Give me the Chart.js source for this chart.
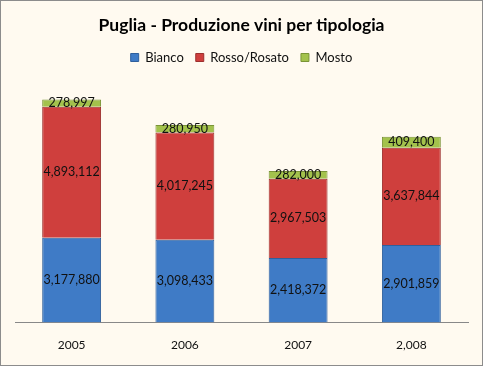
<!DOCTYPE html>
<html lang="it">
<head>
<meta charset="UTF-8">
<title>Puglia - Produzione vini per tipologia</title>
<script src="https://cdn.jsdelivr.net/npm/chart.js@4"></script>
<style>
  html, body { margin: 0; padding: 0; background: #fff; }
  #wrap { width: 483px; height: 366px; box-sizing: border-box; border: 1px solid #8c8c8c; background: #fffaf0; }
</style>
</head>
<body>
<div id="wrap"><canvas id="chart" width="481" height="364"></canvas></div>
<script>
const years = ['2005', '2006', '2007', '2,008'];
const bianco = [3177880, 3098433, 2418372, 2901859];
const rosso = [4893112, 4017245, 2967503, 3637844];
const mosto = [278997, 280950, 282000, 409400];

const fmt = v => v.toLocaleString('en-US');

// writes the value in the middle of every segment
const segmentLabels = {
    id: 'segmentLabels',
    afterDatasetsDraw(chart) {
        const ctx = chart.ctx;
        ctx.save();
        ctx.font = '12.5px Lato, sans-serif';
        ctx.fillStyle = '#111';
        ctx.textAlign = 'center';
        ctx.textBaseline = 'middle';
        chart.data.datasets.forEach((ds, i) => {
            chart.getDatasetMeta(i).data.forEach((bar, j) => {
                const mid = (bar.y + bar.base) / 2;
                ctx.fillText(fmt(ds.data[j]), bar.x, mid);
            });
        });
        ctx.restore();
    }
};

new Chart(document.getElementById('chart'), {
    type: 'bar',
    data: {
        labels: years,
        datasets: [
            { label: 'Bianco', data: bianco, backgroundColor: '#3f7bc6', borderColor: '#2f5f9c', borderWidth: 1 },
            { label: 'Rosso/Rosato', data: rosso, backgroundColor: '#cf3f3d', borderColor: '#9c2f2d', borderWidth: 1 },
            { label: 'Mosto', data: mosto, backgroundColor: '#a3c24c', borderColor: '#7a9436', borderWidth: 1 }
        ]
    },
    options: {
        responsive: false,
        animation: false,
        layout: { padding: { left: 14, right: 14, top: 14, bottom: 6 } },
        datasets: { bar: { categoryPercentage: 1, barPercentage: 0.52 } },
        plugins: {
            title: {
                display: true,
                text: 'Puglia - Produzione vini per tipologia',
                color: '#000',
                font: { family: 'Lato, sans-serif', size: 17.5, weight: 'bold' },
                padding: { top: 0, bottom: 3 }
            },
            legend: {
                labels: {
                    boxWidth: 8, boxHeight: 8, color: '#111',
                    font: { family: 'Lato, sans-serif', size: 13 },
                    padding: 12
                }
            },
            tooltip: { enabled: false }
        },
        scales: {
            x: {
                stacked: true,
                grid: { display: false },
                border: { display: true, color: '#888' },
                ticks: { color: '#111', font: { family: 'Lato, sans-serif', size: 12 }, padding: 7 }
            },
            y: {
                stacked: true,
                display: false,
                min: 0,
                max: 9300000
            }
        }
    },
    plugins: [segmentLabels]
});
</script>
</body>
</html>
